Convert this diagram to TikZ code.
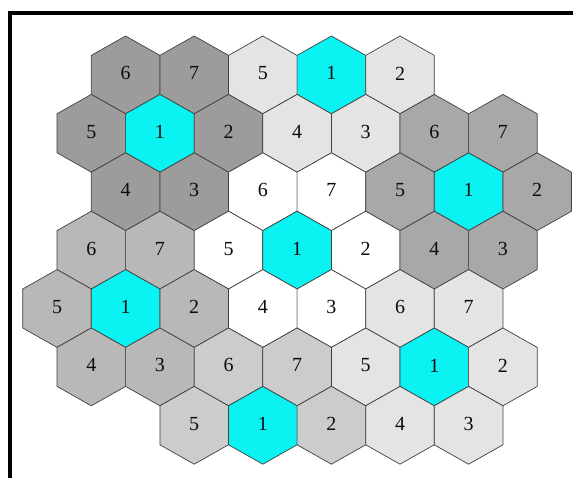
\documentclass[tikz,border=0pt]{standalone}
\usepackage{fontspec}
\setmainfont{Liberation Serif}
\usepackage{xcolor}
\usepackage{tikz}
\usetikzlibrary{calc}

\definecolor{cellcyan}{RGB}{10,242,242}
\definecolor{grpA}{RGB}{156,156,156}
\definecolor{grpB}{RGB}{228,228,228}
\definecolor{grpC}{RGB}{168,168,168}
\definecolor{grpD}{RGB}{255,255,255}
\definecolor{grpE}{RGB}{184,184,184}
\definecolor{grpF}{RGB}{228,228,228}
\definecolor{grpG}{RGB}{204,204,204}

% one hexagonal cell: column (half steps), row, number, fill
\newcommand{\hexcell}[4]{%
    \filldraw[cell, fill=#4, shift={({57+34.3*#1},{74.9+58.4*(#2-1)})}]
        (0,-38.9) -- (34.3,-19.5) -- (34.3,19.5) -- (0,38.9)
        -- (-34.3,19.5) -- (-34.3,-19.5) -- cycle;
    \node[digit] (h-#2-#1) at ({57+34.3*#1},{74.9+58.4*(#2-1)-1.5}) {#3};
}

\begin{document}
\begin{tikzpicture}[
    x=1pt, y=-1pt,
    cell/.style={draw=black!75, line width=0.7pt, line join=round},
    digit/.style={font=\fontsize{20}{24}\selectfont, text=black!95, inner sep=0pt},
    frameline/.style={line width=4pt}
]
    \useasboundingbox (0,0) rectangle (573,478);

    % frame (cut off at right and bottom)
    \draw[frameline] (10.3,480) -- (10.3,13.3) -- (575,13.3);

    \foreach \c/\r/\n/\f in {
        2/1/6/grpA, 4/1/7/grpA, 6/1/5/grpB, 8/1/1/cellcyan, 10/1/2/grpB,
        1/2/5/grpA, 3/2/1/cellcyan, 5/2/2/grpA, 7/2/4/grpB, 9/2/3/grpB, 11/2/6/grpC, 13/2/7/grpC,
        2/3/4/grpA, 4/3/3/grpA, 6/3/6/grpD, 8/3/7/grpD, 10/3/5/grpC, 12/3/1/cellcyan, 14/3/2/grpC,
        1/4/6/grpE, 3/4/7/grpE, 5/4/5/grpD, 7/4/1/cellcyan, 9/4/2/grpD, 11/4/4/grpC, 13/4/3/grpC,
        0/5/5/grpE, 2/5/1/cellcyan, 4/5/2/grpE, 6/5/4/grpD, 8/5/3/grpD, 10/5/6/grpF, 12/5/7/grpF,
        1/6/4/grpE, 3/6/3/grpE, 5/6/6/grpG, 7/6/7/grpG, 9/6/5/grpF, 11/6/1/cellcyan, 13/6/2/grpF,
        4/7/5/grpG, 6/7/1/cellcyan, 8/7/2/grpG, 10/7/4/grpF, 12/7/3/grpF}
        \hexcell{\c}{\r}{\n}{\f};
\end{tikzpicture}
\end{document}
